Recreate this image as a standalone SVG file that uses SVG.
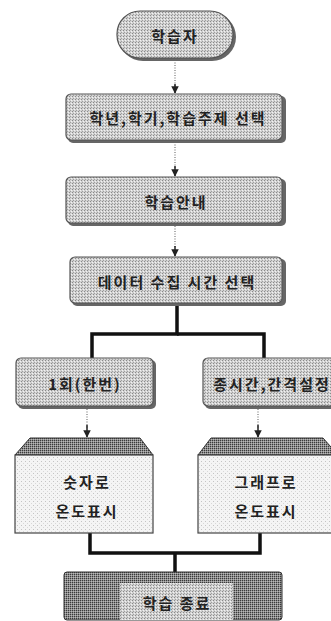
<svg xmlns="http://www.w3.org/2000/svg" width="331" height="621" viewBox="0 0 331 621">
  <defs>
    <pattern id="dither" width="3" height="3" patternUnits="userSpaceOnUse">
      <rect width="3" height="3" fill="#d2d2d2"/>
      <rect x="0" y="0" width="1" height="1" fill="#8a8a8a"/>
      <rect x="2" y="1" width="1" height="1" fill="#f2f2f2"/>
      <rect x="1" y="2" width="1" height="1" fill="#a0a0a0"/>
    </pattern>
    <pattern id="darkdither" width="2" height="2" patternUnits="userSpaceOnUse">
      <rect width="2" height="2" fill="#8c8c8c"/>
      <rect x="0" y="0" width="1" height="1" fill="#3a3a3a"/>
      <rect x="1" y="1" width="1" height="1" fill="#b8b8b8"/>
    </pattern>
    <pattern id="lightdither" width="4" height="4" patternUnits="userSpaceOnUse">
      <rect width="4" height="4" fill="#f4f4f4"/>
      <rect x="1" y="1" width="1" height="1" fill="#c4c4c4"/>
      <rect x="3" y="3" width="1" height="1" fill="#d8d8d8"/>
    </pattern>
    <marker id="arr" viewBox="0 0 10 10" refX="9" refY="5" markerWidth="5" markerHeight="5" orient="auto">
      <path d="M0,0 L10,5 L0,10 z" fill="#222"/>
    </marker>
    <style>
      .lbl { font-family: "Noto Sans CJK KR", "Noto Sans", sans-serif; font-weight: bold; font-size: 15px; fill: #222; text-anchor: middle; dominant-baseline: central; letter-spacing: 2px; }
      .box { fill: url(#dither); stroke: #555; stroke-width: 1.2; }
      .shadow { fill: #666; }
      .dash { stroke: #777; stroke-width: 1.2; stroke-dasharray: 1 1.5; fill: none; }
      .arrowtip { stroke: #222; stroke-width: 1.5; fill: none; }
      .thick { stroke: #111; stroke-width: 3.5; fill: none; }
      .plain { fill: url(#lightdither); stroke: #444; stroke-width: 1.2; }
    </style>
  </defs>

  <g id="connectors">
    <line class="dash" x1="175" y1="60" x2="175" y2="86"/>
    <line class="arrowtip" x1="175" y1="84" x2="175" y2="93" marker-end="url(#arr)"/>
    <line class="dash" x1="175" y1="142" x2="175" y2="168"/>
    <line class="arrowtip" x1="175" y1="166" x2="175" y2="176" marker-end="url(#arr)"/>
    <line class="dash" x1="175" y1="226" x2="175" y2="248"/>
    <line class="arrowtip" x1="175" y1="246" x2="175" y2="256" marker-end="url(#arr)"/>
    <polyline class="thick" points="177,306 177,334 92,334 92,358"/>
    <polyline class="thick" points="177,334 264,334 264,358"/>
    <line class="dash" x1="87" y1="409" x2="87" y2="428"/>
    <line class="arrowtip" x1="87" y1="425" x2="87" y2="437" marker-end="url(#arr)"/>
    <line class="dash" x1="258" y1="409" x2="258" y2="428"/>
    <line class="arrowtip" x1="258" y1="425" x2="258" y2="437" marker-end="url(#arr)"/>
    <polyline class="thick" points="90,533 90,553 260,553 260,533"/>
    <line class="thick" x1="175" y1="553" x2="175" y2="572"/>
  </g>

  <g id="start">
    <rect x="119" y="13" width="117" height="48" rx="24" class="shadow"/>
    <rect x="117" y="11" width="116" height="47" rx="23" class="box"/>
    <text x="175" y="35" class="lbl">학습자</text>
  </g>

  <g id="select-grade">
    <rect x="68" y="96" width="218" height="47" rx="5" class="shadow"/>
    <rect x="66" y="94" width="216" height="46" rx="5" class="box"/>
    <text x="178" y="117" class="lbl">학년,학기,학습주제 선택</text>
  </g>

  <g id="guide">
    <rect x="68" y="179" width="218" height="47" rx="5" class="shadow"/>
    <rect x="66" y="177" width="216" height="46" rx="5" class="box"/>
    <text x="176" y="201" class="lbl">학습안내</text>
  </g>

  <g id="select-time">
    <rect x="72" y="259" width="214" height="47" rx="5" class="shadow"/>
    <rect x="70" y="257" width="212" height="46" rx="5" class="box"/>
    <text x="177" y="281" class="lbl">데이터 수집 시간 선택</text>
  </g>

  <g id="once">
    <rect x="18" y="360" width="138" height="49" rx="5" class="shadow"/>
    <rect x="16" y="358" width="137" height="48" rx="5" class="box"/>
    <text x="85" y="383" class="lbl">1회(한번)</text>
  </g>

  <g id="interval">
    <rect x="205" y="360" width="140" height="49" rx="5" class="shadow"/>
    <rect x="203" y="358" width="140" height="48" rx="5" class="box"/>
    <text x="272" y="383" class="lbl">종시간,간격설정</text>
  </g>

  <g id="show-number">
    <polygon points="30,438 140,438 153,455 15,455" fill="url(#darkdither)" stroke="#333" stroke-width="1"/>
    <rect x="15" y="455" width="138" height="78" class="plain"/>
    <text x="87" y="481" class="lbl">숫자로</text>
    <text x="87" y="510" class="lbl">온도표시</text>
  </g>

  <g id="show-graph">
    <polygon points="211,438 323,438 338,455 198,455" fill="url(#darkdither)" stroke="#333" stroke-width="1"/>
    <rect x="198" y="455" width="140" height="78" class="plain"/>
    <text x="266" y="481" class="lbl">그래프로</text>
    <text x="266" y="510" class="lbl">온도표시</text>
  </g>

  <g id="end">
    <rect x="64" y="572" width="218" height="48" rx="3" fill="url(#darkdither)" stroke="#333" stroke-width="1"/>
    <rect x="120" y="583" width="113" height="37" fill="url(#dither)"/>
    <text x="177" y="602" class="lbl">학습 종료</text>
  </g>
</svg>
